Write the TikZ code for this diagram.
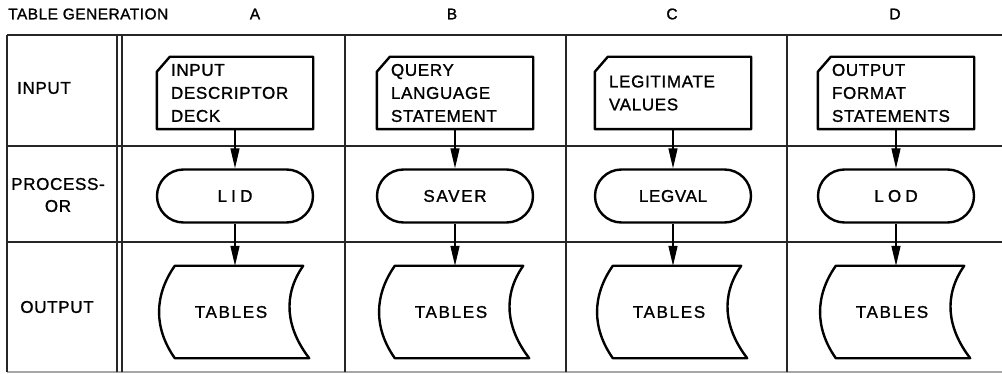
\documentclass[tikz,border=0pt]{standalone}
\usepackage{fontspec}
\setmainfont{Liberation Sans}[LetterSpace=4,FakeBold=1.2]
\usetikzlibrary{arrows.meta,calc,shapes.misc}
\begin{document}
\begin{tikzpicture}[x=1pt,y=-1pt,
  every node/.style={font=\fontsize{17}{23}\selectfont, inner sep=0pt},
  grid/.style={line width=1.6pt, draw=black!85},
  faint/.style={line width=1.2pt, draw=black!35},
  shp/.style={line width=2.4pt, line join=round},
  inbox/.style={minimum width=156pt, minimum height=72pt, text width=128pt, align=left},
  proc/.style={shp, draw, rounded rectangle, minimum width=156pt, minimum height=53pt},
  outn/.style={minimum width=150pt, minimum height=92pt},
  arr/.style={line width=1.4pt, -{Triangle[length=20pt,width=9pt]}},
  wide/.style={font=\fontsize{17}{23}\selectfont\addfontfeature{LetterSpace=25}},
  med/.style={font=\fontsize{17}{23}\selectfont\addfontfeature{LetterSpace=10}},
  head/.style={font=\fontsize{15.5}{18}\selectfont\addfontfeature{LetterSpace=3}}
]
\useasboundingbox (0,0) rectangle (1002,374);

% table grid
\draw[grid] (7,35) -- (1002,35);
\draw[grid] (7,146) -- (1002,146);
\draw[grid] (7,242) -- (1002,242);
\draw[faint] (7,372) -- (1002,372);
\foreach \x in {7,117,122,345,566,787} \draw[grid] (\x,35) -- (\x,372);

% headings
\node[anchor=west, head] (title) at (8,14) {TABLE GENERATION};
\node[head] (hA) at (255,14) {A};
\node[head] (hB) at (452,14) {B};
\node[head] (hC) at (672,14) {C};
\node[head] (hD) at (895,14) {D};

% row labels
\node (rin) at (44,88) {INPUT};
\node[align=center, font=\fontsize{17}{22}\selectfont] (rproc) at (58,195) {PROCESS-\\OR};
\node (rout) at (57,307) {OUTPUT};

% columns
\foreach \c/\cx/\intext/\ptext/\pstyle in {
  A/235/{INPUT\\DESCRIPTOR\\DECK}/LID/wide,
  B/455/{QUERY\\LANGUAGE\\STATEMENT}/SAVER/med,
  C/673/{LEGITIMATE\\VALUES}/LEGVAL/{},
  D/896/{OUTPUT\\FORMAT\\STATEMENTS}/LOD/wide}{
  \node[inbox] (i\c) at (\cx,93) {\intext};
  \draw[shp] ($(i\c.north west)+(0,15)$) -- ($(i\c.north west)+(13,0)$)
     -- (i\c.north east) -- (i\c.south east) -- (i\c.south west) -- cycle;
  \node[proc,\pstyle] (p\c) at (\cx,196) {\ptext};
  \node[outn, med] (t\c) at (\cx-4,312) {TABLES};
  \draw[shp] ($(t\c.north west)+(19,0)$) -- ($(t\c.north east)+(-3,0)$)
     .. controls ($(t\c.north east)+(-24,30)$) and ($(t\c.south east)+(-20,-30)$) .. ($(t\c.south east)+(3,0)$)
     -- ($(t\c.south west)+(19,0)$)
     .. controls ($(t\c.south west)+(-2,-30)$) and ($(t\c.north west)+(-2,30)$) .. cycle;
  \draw[arr] (i\c.south) -- (p\c.north);
  \draw[arr] (p\c.south) -- (p\c.south |- t\c.north);
}
\end{tikzpicture}
\end{document}
